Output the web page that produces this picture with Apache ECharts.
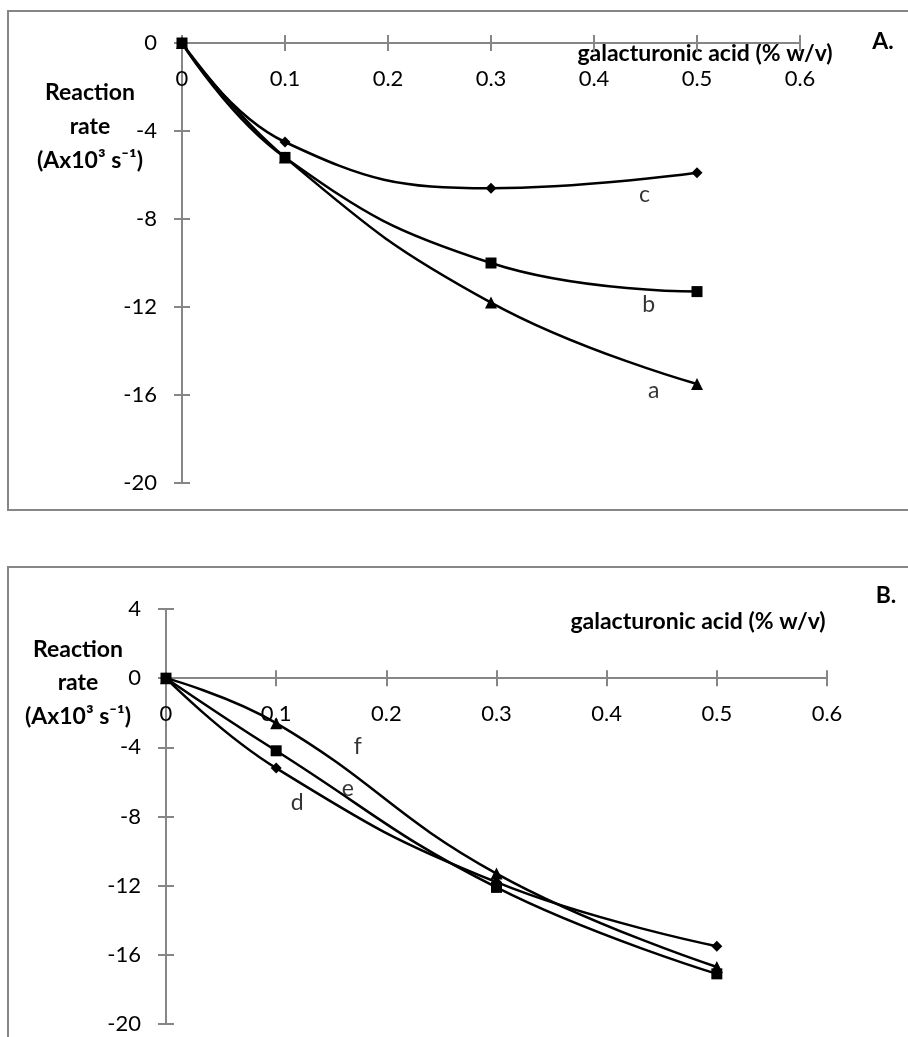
<!DOCTYPE html>
<html>
<head>
<meta charset="utf-8">
<script src="https://cdn.jsdelivr.net/npm/echarts@6/dist/echarts.min.js"></script>
<style>
html,body{margin:0;padding:0;background:#fff;}
#chart{width:908px;height:1037px;}
</style>
</head>
<body>
<div id="chart"></div>
<script>
// ---- data ----
const xValues = [0, 0.1, 0.3, 0.5];
// Panel A
const seriesA_a = [0, -5.2, -11.8, -15.5];   // triangles
const seriesA_b = [0, -5.2, -10.0, -11.3];   // squares
const seriesA_c = [0, -4.5, -6.6, -5.9];     // diamonds
// Panel B
const seriesB_d = [0, -5.2, -11.8, -15.5];   // diamonds
const seriesB_e = [0, -4.2, -12.1, -17.1];   // squares
const seriesB_f = [0, -2.6, -11.3, -16.7];   // triangles
// curve labels [x, y, text]
const labelsA = [[0.458, -15.8, 'a'], [0.453, -11.9, 'b'], [0.449, -6.9, 'c']];
const labelsB = [[0.119, -7.2, 'd'], [0.165, -6.4, 'e'], [0.174, -3.95, 'f']];
const xTicks = [0, 0.1, 0.2, 0.3, 0.4, 0.5, 0.6];
const yTicksA = [0, -4, -8, -12, -16, -20];
const yTicksB = [4, 0, -4, -8, -12, -16, -20];
const xTitle = 'galacturonic acid (% w/v)';
const yTitle = ['Reaction', 'rate', '(Ax10³ s⁻¹)'];

const FONT = 'Lato';
const AX = '#868686';

// grid layout (pixels)
const gridA = {left:182, right:108, top:43, bottom:554};
const gridB = {left:166, right:81, top:609, bottom:13};
const H = 1037;

function pairs(ys){ return xValues.map((x,i)=>[x, ys[i]]); }

// x axis drawn at y = 0 : offset from top of grid computed from axis range
function xAxes(grid, yMin, yMax, gridBox){
  const gh = H - gridBox.top - gridBox.bottom;
  const off = -gh * (yMax - 0) / (yMax - yMin);
  const base = {
    type:'value', gridIndex:grid, min:xTicks[0], max:xTicks[xTicks.length-1], interval:0.1,
    position:'top', offset:off,
    axisLine:{show:true, onZero:false, lineStyle:{color:AX, width:2}},
    splitLine:{show:false}
  };
  return [
    Object.assign({}, base, {
      axisTick:{show:true, inside:false, length:8, lineStyle:{color:AX, width:2}},
      axisLabel:{show:true, inside:true, margin:25, color:'#000', fontFamily:FONT, fontSize:22,
        formatter:v=>String(Math.round(v*10)/10)}
    }),
    Object.assign({}, base, {
      axisTick:{show:true, inside:true, length:8, lineStyle:{color:AX, width:2}},
      axisLabel:{show:false}
    })
  ];
}
function yAxes(grid, min, max){
  const base = {
    type:'value', gridIndex:grid, min:min, max:max, interval:4, position:'left',
    axisLine:{show:true, onZero:false, lineStyle:{color:AX, width:2}},
    splitLine:{show:false}
  };
  return [
    Object.assign({}, base, {
      axisTick:{show:true, inside:false, length:8, lineStyle:{color:AX, width:2}},
      axisLabel:{show:true, margin:25, color:'#000', fontFamily:FONT, fontSize:22}
    }),
    Object.assign({}, base, {
      axisTick:{show:true, inside:true, length:8, lineStyle:{color:AX, width:2}},
      axisLabel:{show:false}
    })
  ];
}

function lineSeries(xi, yi, ys, symbol, size){
  return {
    type:'line', xAxisIndex:xi, yAxisIndex:yi, data:pairs(ys), smooth:0.45,
    symbol:symbol, symbolSize:size, showSymbol:true,
    lineStyle:{color:'#000', width:2.5}, itemStyle:{color:'#000'},
    z:5
  };
}
function labelSeries(xi, yi, labels){
  return {
    type:'scatter', xAxisIndex:xi, yAxisIndex:yi, symbolSize:1,
    itemStyle:{color:'rgba(0,0,0,0)'},
    data:labels.map(l=>({value:[l[0], l[1]], name:l[2]})),
    label:{show:true, position:'inside', formatter:p=>p.name, color:'#000', fontFamily:FONT, fontSize:23},
    silent:true, z:6
  };
}

const xa = xAxes(0, -20, 0, gridA), xb = xAxes(1, -20, 4, gridB);
const ya = yAxes(0, yTicksA[yTicksA.length-1], yTicksA[0]), yb = yAxes(1, yTicksB[yTicksB.length-1], yTicksB[0]);

function titleGroup(cx, ys){
  return yTitle.map((t,i)=>({
    type:'text', x:cx, y:ys[i],
    style:{text:t, font:'bold 23px '+FONT, fill:'#000', textAlign:'center', textVerticalAlign:'middle'}
  }));
}

const option = {
  animation:false,
  grid:[
    Object.assign({containLabel:false}, gridA),
    Object.assign({containLabel:false}, gridB)
  ],
  xAxis:[xa[0], xa[1], xb[0], xb[1]],
  yAxis:[ya[0], ya[1], yb[0], yb[1]],
  series:[
    lineSeries(0,0,seriesA_a,'triangle',12),
    lineSeries(0,0,seriesA_b,'rect',11),
    lineSeries(0,0,seriesA_c,'diamond',11),
    labelSeries(0,0,labelsA),
    lineSeries(2,2,seriesB_d,'diamond',11),
    lineSeries(2,2,seriesB_e,'rect',11),
    lineSeries(2,2,seriesB_f,'triangle',12),
    labelSeries(2,2,labelsB)
  ],
  graphic:[
    {type:'rect', shape:{x:8, y:11, width:920, height:499}, style:{fill:null, stroke:AX, lineWidth:2}, z:-1},
    {type:'rect', shape:{x:8, y:567, width:920, height:500}, style:{fill:null, stroke:AX, lineWidth:2}, z:-1},
    {type:'text', x:705, y:54, style:{text:xTitle, font:'bold 23px '+FONT, fill:'#000', textAlign:'center', textVerticalAlign:'middle'}},
    {type:'text', x:883, y:42, style:{text:'A.', font:'bold 23px '+FONT, fill:'#000', textAlign:'center', textVerticalAlign:'middle'}},
    {type:'text', x:698, y:622, style:{text:xTitle, font:'bold 23px '+FONT, fill:'#000', textAlign:'center', textVerticalAlign:'middle'}},
    {type:'text', x:886, y:596, style:{text:'B.', font:'bold 23px '+FONT, fill:'#000', textAlign:'center', textVerticalAlign:'middle'}}
  ].concat(titleGroup(90, [93,127,161])).concat(titleGroup(78, [650,683,717]))
};

const chart = echarts.init(document.getElementById('chart'), null, {renderer:'canvas'});
chart.setOption(option);
</script>
</body>
</html>
